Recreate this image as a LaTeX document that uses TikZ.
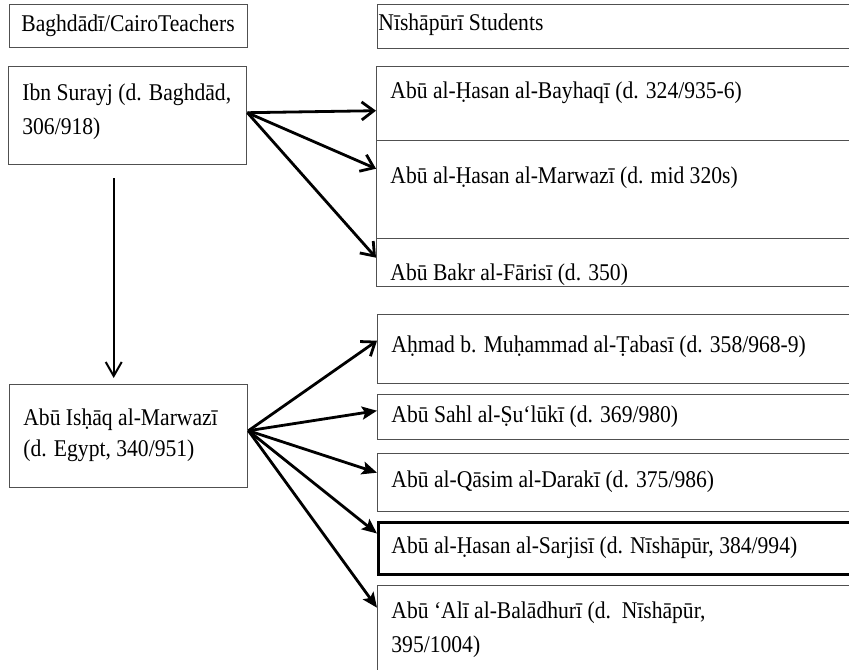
\documentclass[tikz,border=0pt]{standalone}
\usepackage{fontspec}
\setmainfont{Liberation Serif}[FakeStretch=0.9]
\usetikzlibrary{arrows.meta}
\definecolor{boxgray}{HTML}{505050}
\begin{document}
\begin{tikzpicture}[x=0.5pt,y=-0.5pt,
  box/.style={draw=boxgray,line width=0.7pt,rectangle,inner sep=0pt,anchor=north west},
  thickbox/.style={box,draw=black,line width=1.5pt},
  txt/.style={anchor=base west,inner sep=0pt,font=\fontsize{12}{17}\selectfont},
  barb/.style={line width=1.4pt,-{Straight Barb[length=6pt,width=9pt,line width=1.4pt]}},
  stealthy/.style={line width=1.4pt,-{Stealth[length=7.5pt,width=6.5pt,inset=1.5pt]}}]
\useasboundingbox (0,0) rectangle (849,669);
% headers
\node[box,minimum width=119pt,minimum height=21.5pt] (h1) at (9,4) {};
\node[txt] (h1t) at (21,31) {Baghdādī/CairoTeachers};
\node[box,minimum width=239pt,minimum height=22pt] (h2) at (377,4) {};
\node[txt] (h2t) at (378,30) {Nīshāpūrī Students};
% teachers
\node[box,minimum width=119pt,minimum height=49pt] (ibn) at (8,66) {};
\node[txt] (ibn1) at (22,100) {Ibn Surayj (d. Baghdād,};
\node[txt] (ibn2) at (22,134) {306/918)};
\node[box,minimum width=119pt,minimum height=51.5pt] (ish) at (9,384) {};
\node[txt] (ish1) at (23,425) {Abū Isḥāq al-Marwazī};
\node[txt] (ish2) at (23,456) {(d. Egypt, 340/951)};
% students
\node[box,minimum width=239.5pt,minimum height=37pt] (s1) at (376,66) {};
\node[txt] (s1t) at (390,98) {Abū al-Ḥasan al-Bayhaqī (d. 324/935-6)};
\node[box,minimum width=239.5pt,minimum height=49pt] (s2) at (376,140) {};
\node[txt] (s2t) at (390,183) {Abū al-Ḥasan al-Marwazī (d. mid 320s)};
\node[box,minimum width=239.5pt,minimum height=24pt] (s3) at (376,238) {};
\node[txt] (s3t) at (390,280) {Abū Bakr al-Fārisī (d. 350)};
\node[box,minimum width=239pt,minimum height=34.5pt] (s4) at (377,314) {};
\node[txt] (s4t) at (391,352) {Aḥmad b. Muḥammad al-Ṭabasī (d. 358/968-9)};
\node[box,minimum width=239pt,minimum height=22.5pt] (s5) at (377,394) {};
\node[txt] (s5t) at (391,422) {Abū Sahl al-Ṣu‘lūkī (d. 369/980)};
\node[box,minimum width=239pt,minimum height=29pt] (s6) at (377,453) {};
\node[txt] (s6t) at (391,487) {Abū al-Qāsim al-Darakī (d. 375/986)};
\node[thickbox,minimum width=239pt,minimum height=26pt] (s7) at (377,521) {};
\node[txt] (s7t) at (391,553) {Abū al-Ḥasan al-Sarjisī (d. Nīshāpūr, 384/994)};
\node[box,minimum width=239pt,minimum height=47.5pt] (s8) at (377,585) {};
\node[txt] (s8a) at (391,618) {Abū ‘Alī al-Balādhurī (d.\ \ Nīshāpūr,};
\node[txt] (s8b) at (391,652) {395/1004)};
% connectors
\draw[barb] ([yshift=1.5pt]ibn.east) -- ([yshift=-3.5pt]s1.west);
\draw[barb] ([yshift=1.5pt]ibn.east) -- ([yshift=10.5pt]s2.west);
\draw[barb] ([yshift=1.5pt]ibn.east) -- ([yshift=2.5pt]s3.west);
\draw[line width=1pt,-{Straight Barb[length=7pt,width=8pt,line width=1pt]}] ([xshift=-7pt,yshift=-6.5pt]ibn.south) -- ([xshift=-7.5pt,yshift=3pt]ish.north);
\draw[barb] ([yshift=2.75pt]ish.east) -- ([yshift=4.25pt]s4.west);
\draw[stealthy] ([yshift=2.75pt]ish.east) -- ([yshift=3.25pt]s5.west);
\draw[stealthy] ([yshift=2.75pt]ish.east) -- ([yshift=5pt]s6.west);
\draw[stealthy] ([yshift=2.75pt]ish.east) -- ([yshift=7.5pt]s7.west);
\draw[stealthy] ([yshift=2.75pt]ish.east) -- ([yshift=12.75pt]s8.west);
\end{tikzpicture}
\end{document}
